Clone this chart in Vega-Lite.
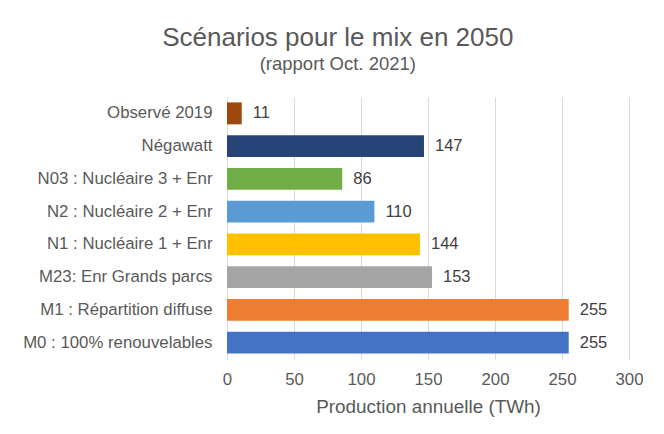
{
  "$schema": "https://vega.github.io/schema/vega-lite/v6.json",
  "autosize": {"type": "none"},
  "width": 402,
  "height": 262,
  "padding": {"left": 227, "top": 97, "right": 35, "bottom": 75},
  "background": "white",
  "config": {
    "font": "Liberation Sans",
    "view": {"stroke": null}
  },
  "title": {
    "text": "Scénarios pour le mix en 2050",
    "subtitle": "(rapport Oct. 2021)",
    "fontSize": 26,
    "fontWeight": "normal",
    "color": "#595959",
    "subtitleFontSize": 18.5,
    "subtitleColor": "#595959",
    "subtitlePadding": 4,
    "anchor": "middle",
    "frame": "bounds",
    "offset": 23.5,
    "dx": 5
  },
  "data": {
    "values": [
      {"scenario": "Observé 2019", "value": 11, "color": "#9E480E"},
      {"scenario": "Négawatt", "value": 147, "color": "#264478"},
      {"scenario": "N03 : Nucléaire 3 + Enr", "value": 86, "color": "#70AD47"},
      {"scenario": "N2 : Nucléaire 2 + Enr", "value": 110, "color": "#5B9BD5"},
      {"scenario": "N1 : Nucléaire 1 + Enr", "value": 144, "color": "#FFC000"},
      {"scenario": "M23: Enr Grands parcs", "value": 153, "color": "#A5A5A5"},
      {"scenario": "M1 : Répartition diffuse", "value": 255, "color": "#ED7D31"},
      {"scenario": "M0 : 100% renouvelables", "value": 255, "color": "#4472C4"}
    ]
  },
  "encoding": {
    "y": {
      "field": "scenario",
      "type": "nominal",
      "sort": null,
      "scale": {"paddingInner": 0.33, "paddingOuter": 0.165},
      "axis": {
        "title": null,
        "ticks": false,
        "domain": false,
        "labelFontSize": 16.8,
        "labelColor": "#595959",
        "labelPadding": 15,
        "labelLimit": 300
      }
    },
    "x": {
      "field": "value",
      "type": "quantitative",
      "scale": {"domain": [0, 300], "nice": false},
      "axis": {
        "title": "Production annuelle (TWh)",
        "titleFontSize": 18.9,
        "titleFontWeight": "normal",
        "titleColor": "#595959",
        "titlePadding": 10,
        "values": [0, 50, 100, 150, 200, 250, 300],
        "ticks": false,
        "domain": false,
        "labelFlush": false,
        "labelFontSize": 16.8,
        "labelColor": "#595959",
        "labelPadding": 12,
        "grid": true,
        "gridColor": "#D9D9D9",
        "gridWidth": 1
      }
    }
  },
  "layer": [
    {
      "mark": {"type": "bar"},
      "encoding": {
        "color": {"field": "color", "type": "nominal", "scale": null, "legend": null}
      }
    },
    {
      "mark": {"type": "text", "align": "left", "baseline": "middle", "dx": 11, "fontSize": 16.5, "color": "#404040"},
      "encoding": {
        "text": {"field": "value", "type": "quantitative"}
      }
    }
  ]
}
